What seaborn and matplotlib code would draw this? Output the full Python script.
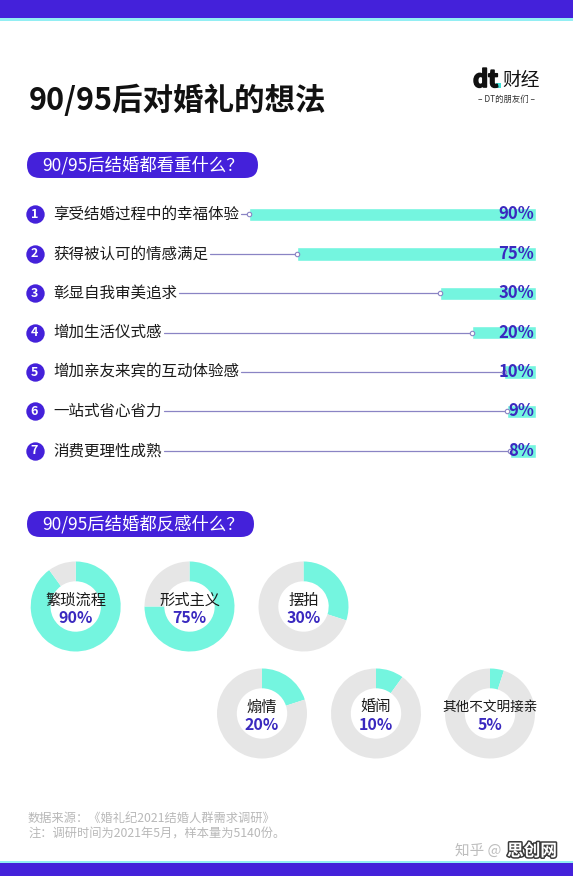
import matplotlib
matplotlib.use('Agg')
import matplotlib.pyplot as plt
import matplotlib.patheffects as pe
from matplotlib.patches import Rectangle, FancyBboxPatch
from matplotlib.transforms import blended_transform_factory
import seaborn as sns

# data
title = '90/95后对婚礼的想法'
q_like = '90/95后结婚都看重什么？'
q_dislike = '90/95后结婚都反感什么？'
like_items = ['享受结婚过程中的幸福体验', '获得被认可的情感满足', '彰显自我审美追求',
              '增加生活仪式感', '增加亲友来宾的互动体验感', '一站式省心省力', '消费更理性成熟']
like_values = [90, 75, 30, 20, 10, 9, 8]
dislike_items = ['繁琐流程', '形式主义', '摆拍', '煽情', '婚闹', '其他不文明接亲']
dislike_values = [90, 75, 30, 20, 10, 5]
source_lines = ['数据来源：《婚礼纪2021结婚人群需求调研》',
                '注：调研时间为2021年5月，样本量为5140份。']

# colours
PURPLE = '#4421DA'
TURQ = '#74F5DF'
GREY = '#E6E6E6'
VALUE = '#3A29BF'
LINE = '#8A84C4'
CYAN = '#92EEF3'

sns.set_theme(style='white')
plt.rcParams['font.family'] = ['Noto Sans CJK SC', 'DejaVu Sans']

W, H = 573, 876
fig = plt.figure(figsize=(W / 100, H / 100), dpi=100)
fig.patch.set_facecolor('white')

# background axes in pixel coordinates
bg = fig.add_axes([0, 0, 1, 1])
bg.set_xlim(0, W)
bg.set_ylim(H, 0)
bg.axis('off')

# top / bottom bands
bg.add_patch(Rectangle((0, 0), W, 18, color=PURPLE, lw=0))
bg.add_patch(Rectangle((0, 18), W, 2.5, color=CYAN, lw=0))
bg.add_patch(Rectangle((0, 861), W, 2, color=CYAN, lw=0))
bg.add_patch(Rectangle((0, 863), W, 13, color=PURPLE, lw=0))

# title and logo
bg.text(29, 101, title, fontsize=22, fontweight='heavy', color='#111111', va='center')
bg.text(473, 80, 'dt', fontsize=17, fontweight='heavy', color='#111111', va='center',
        path_effects=[pe.withStroke(linewidth=1.2, foreground='#111111')])
bg.add_patch(Rectangle((496, 83), 5, 5, color='#3EE0D6', lw=0))
bg.text(502, 80, '财经', fontsize=13.5, color='#111111', va='center')
bg.text(507, 99, '– DT的朋友们 –', fontsize=6, color='#333333', va='center', ha='center')


def pill(y, w, text):
    bg.add_patch(FancyBboxPatch((27, y), w, 26,
                                boxstyle='round,pad=0,rounding_size=13',
                                color=PURPLE, lw=0))
    bg.text(42, y + 13.5, text, fontsize=12.5, color='white', va='center')


pill(152, 231, q_like)
pill(511, 227, q_dislike)

# bars: 0% at x=536 px, 100% at x=217 px
row0, step = 214.5, 39.4
n = len(like_items)
top = row0 - step / 2
bottom = row0 + (n - 0.5) * step
bax = fig.add_axes([217 / W, 1 - bottom / H, (536 - 217) / W, (bottom - top) / H])
sns.barplot(x=like_values, y=like_items, orient='h', color=TURQ, saturation=1,
            width=0.345, ax=bax, zorder=2)
bax.set_xlim(100, 0)
bax.set_ylim(n - 0.5, -0.5)
bax.axis('off')

row_tf = blended_transform_factory(bg.transData, bax.transData)
renderer = fig.canvas.get_renderer()
for i, (name, v) in enumerate(zip(like_items, like_values)):
    bg.scatter([34.5], [i], s=175, color=PURPLE, transform=row_tf, zorder=3, lw=0)
    bg.text(34.5, i, str(i + 1), transform=row_tf, fontsize=9, fontweight='bold',
            color='white', ha='center', va='center', zorder=4)
    t = bg.text(53, i, name, transform=row_tf, fontsize=11.2, color='#1a1a1a',
                va='center')
    ext = t.get_window_extent(renderer)
    x_end = bax.transData.inverted().transform((ext.x1 + 2, 0))[0]
    bax.plot([x_end, v], [i, i], color=LINE, lw=0.9, clip_on=False, zorder=1)
    bax.plot([v], [i], 'o', ms=3.2, mfc='white', mec=LINE, mew=0.8,
             clip_on=False, zorder=3)
    bax.text(534, i, f'{v}%', transform=row_tf, fontsize=12, fontweight='bold',
             color=VALUE, ha='right', va='center', zorder=5, clip_on=False)

# donuts
R = 45
centers = [(75.7, 606.5), (189.5, 606.5), (303.5, 606.5),
           (262, 713.5), (376, 713.5), (490, 713.5)]
for (cx, cy), name, v in zip(centers, dislike_items, dislike_values):
    dax = fig.add_axes([(cx - R) / W, 1 - (cy + R) / H, 2 * R / W, 2 * R / H])
    dax.pie([v, 100 - v], colors=[TURQ, GREY], startangle=90, counterclock=False,
            wedgeprops=dict(width=0.44, linewidth=0))
    dax.set_xlim(-1, 1)
    dax.set_ylim(-1, 1)
    dax.set_aspect('equal')
    dax.axis('off')
    fs = 11 if len(name) <= 4 else 9.8
    dax.text(0, 6.5 / R, name, fontsize=fs, color='#1a1a1a', ha='center', va='center')
    dax.text(0, -11.5 / R, f'{v}%', fontsize=11.5, fontweight='bold', color=VALUE,
             ha='center', va='center')

# footer
for k, line in enumerate(source_lines):
    bg.text(28, 818 + k * 16, line, fontsize=8.8, color='#b8b8b8', va='center')
bg.text(455, 851, '知乎 @', fontsize=10.5, color='#bdbdbd', va='center')
bg.text(507, 851, '思创网', fontsize=12, fontweight='bold', color='white', va='center',
        path_effects=[pe.withStroke(linewidth=2.2, foreground='#3a3a3a')])

fig.savefig('out.png', dpi=100, facecolor='white')
